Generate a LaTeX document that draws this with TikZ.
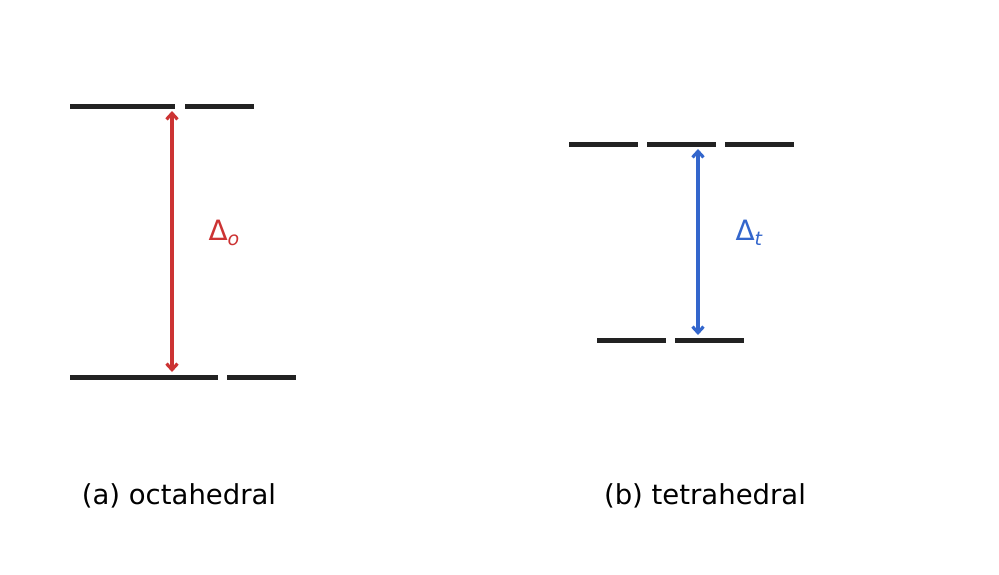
\documentclass[tikz,border=0pt]{standalone}
\usepackage{fontspec}
\setmainfont{DejaVu Sans}
\usepackage{tikz}
\usetikzlibrary{arrows.meta}
\definecolor{level}{HTML}{222222}
\definecolor{octa}{HTML}{CC3333}
\definecolor{tetra}{HTML}{3366CC}

\begin{document}
\begin{tikzpicture}[x=1pt,y=-1pt,>={Straight Barb[length=6pt,width=11pt]}]
  \useasboundingbox (0,0) rectangle (999,574);
  \tikzset{lvl/.style={level,line width=5pt},
    split/.style={<->,line width=3.2pt,shorten <=5pt,shorten >=5pt},
    gaplabel/.style={anchor=west,font=\fontsize{28}{30}\selectfont}}
  % octahedral: e_g above, t_2g below
  \foreach \a/\b in {70/175,106/175,185/254} {\draw[lvl] (\a,106) -- (\b,106);}
  \foreach \a/\b in {70/175,148/218,227/296} {\draw[lvl] (\a,377) -- (\b,377);}
  \coordinate (egTop) at (172,106);
  \coordinate (tgBot) at (172,377);
  \draw[split,octa] (egTop) -- (tgBot);
  \node[gaplabel,text=octa] (deltaO) at (205,233) {Δ\raisebox{-5pt}{\fontsize{19}{20}\selectfont\itshape o}};
  % tetrahedral: t_2 above, e below
  \foreach \a/\b in {569/638,647/716,725/794} {\draw[lvl] (\a,144) -- (\b,144);}
  \foreach \a/\b in {597/666,675/744} {\draw[lvl] (\a,340) -- (\b,340);}
  \coordinate (tTop) at (698,144);
  \coordinate (eBot) at (698,340);
  \draw[split,tetra] (tTop) -- (eBot);
  \node[gaplabel,text=tetra] (deltaT) at (732,233) {Δ\raisebox{-5pt}{\fontsize{19}{20}\selectfont\itshape t}};
  \node[font=\fontsize{27.5}{32}\selectfont] (capOcta) at (179,496) {(a) octahedral};
  \node[font=\fontsize{27.5}{32}\selectfont] (capTetra) at (705,496) {(b) tetrahedral};
\end{tikzpicture}
\end{document}
